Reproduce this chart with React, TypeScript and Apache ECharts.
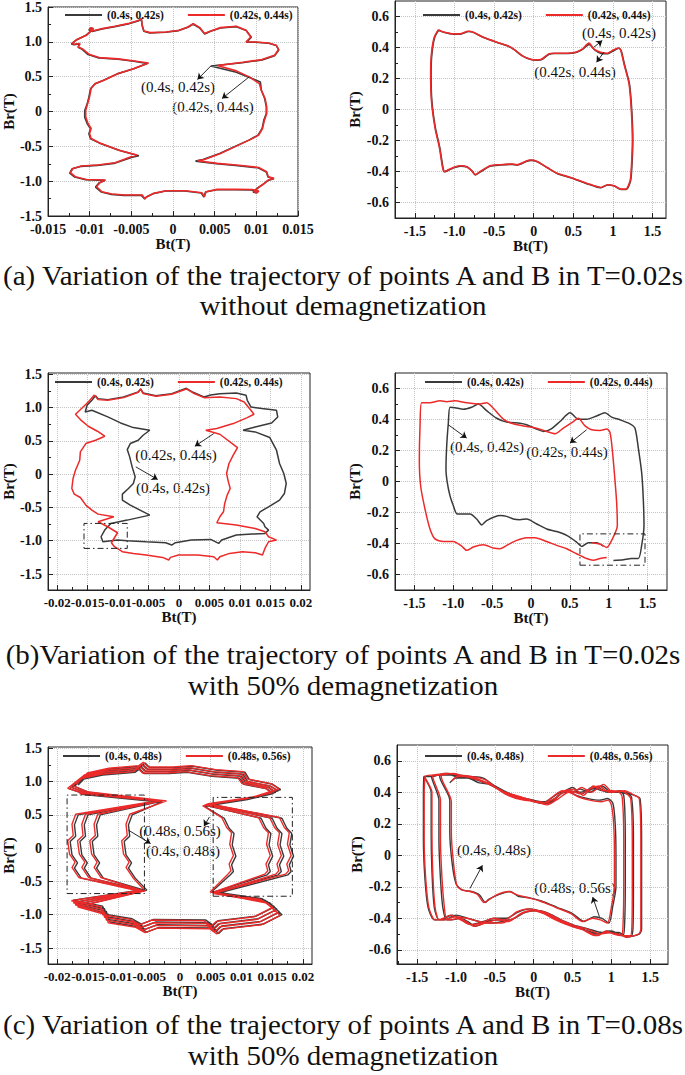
import React, { useEffect, useRef } from 'react';
import * as echarts from 'echarts';

const SERIF = 'Liberation Serif, Times New Roman, serif';
const BLACK = '#3a3a3a';
const RED = '#ec2a2a';

// ---------- tick labels ----------
const X_TICKS_A_LEFT = [-0.015, -0.01, -0.005, 0, 0.005, 0.01, 0.015];
const X_LABELS_A_LEFT = ['-0.015', '-0.01', '-0.005', '0', '0.005', '0.01', '0.015'];
const X_TICKS_BC_LEFT = [-0.02, -0.015, -0.01, -0.005, 0, 0.005, 0.01, 0.015, 0.02];
const X_LABELS_BC_LEFT = ['-0.02', '-0.015', '-0.01', '-0.005', '0', '0.005', '0.01', '0.015', '0.02'];
const X_TICKS_RIGHT = [-1.5, -1, -0.5, 0, 0.5, 1, 1.5];
const X_LABELS_RIGHT = ['-1.5', '-1.0', '-0.5', '0', '0.5', '1', '1.5'];
const Y_TICKS_LEFT = [-1.5, -1, -0.5, 0, 0.5, 1, 1.5];
const Y_LABELS_LEFT = ['-1.5', '-1.0', '-0.5', '0', '0.5', '1.0', '1.5'];
const Y_TICKS_RIGHT = [-0.6, -0.4, -0.2, 0, 0.2, 0.4, 0.6];
const Y_LABELS_RIGHT = ['-0.6', '-0.4', '-0.2', '0', '0.2', '0.4', '0.6'];

// ---------- legend names ----------
const NAMES_AB = ['(0.4s, 0.42s)', '(0.42s, 0.44s)'];
const NAMES_C = ['(0.4s, 0.48s)', '(0.48s, 0.56s)'];

// ---------- (a) left ----------
const A_LEFT_RED = [[-0.0104,1.094],[-0.00983,1.156],[-0.00956,1.19],[-0.00983,1.204],[-0.01002,1.175],[-0.00964,1.156],[-0.00849,1.19],[-0.00695,1.223],[-0.00542,1.261],[-0.00408,1.309],[-0.00381,1.333],[-0.0037,1.237],[-0.0035,1.156],[-0.00274,1.132],[-0.00083,1.142],[0.00071,1.166],[0.00178,1.213],[0.00243,1.261],[0.0032,1.204],[0.00377,1.118],[0.00454,1.156],[0.00569,1.204],[0.0076,1.223],[0.00875,1.166],[0.00933,1.07],[0.00875,0.998],[0.0099,0.998],[0.01143,0.984],[0.01239,0.951],[0.01266,0.889],[0.0122,0.807],[0.01067,0.745],[0.00837,0.707],[0.0053,0.659],[0.0076,0.583],[0.00914,0.497],[0.01036,0.401],[0.01059,0.306],[0.01105,0.186],[0.01124,0.067],[0.01124,-0.029],[0.01097,-0.124],[0.01074,-0.244],[0.01028,-0.339],[0.00914,-0.411],[0.0076,-0.497],[0.00569,-0.602],[0.00377,-0.688],[0.00293,-0.707],[0.0053,-0.745],[0.0076,-0.769],[0.01028,-0.803],[0.01124,-0.865],[0.01143,-0.936],[0.01212,-0.96],[0.01143,-0.984],[0.01086,-1.041],[0.01028,-1.089],[0.0097,-1.15],[0.0101,-1.165],[0.0103,-1.14],[0.0095,-1.12],[0.0076,-1.118],[0.0053,-1.118],[0.00396,-1.151],[0.00377,-1.223],[0.00346,-1.166],[0.00147,-1.137],[-0.00083,-1.137],[-0.00236,-1.175],[-0.00312,-1.223],[-0.00339,-1.252],[-0.0037,-1.199],[-0.0058,-1.199],[-0.00734,-1.185],[-0.00856,-1.151],[-0.00918,-1.08],[-0.00879,-1.022],[-0.0081,-0.984],[-0.0104,-0.975],[-0.01174,-0.936],[-0.01232,-0.879],[-0.01201,-0.817],[-0.01098,-0.783],[-0.00906,-0.769],[-0.00695,-0.736],[-0.00504,-0.65],[-0.00435,-0.626],[-0.00657,-0.554],[-0.00887,-0.449],[-0.00983,-0.387],[-0.01002,-0.315],[-0.00983,-0.244],[-0.01021,-0.172],[-0.01048,-0.076],[-0.01048,0.019],[-0.01025,0.115],[-0.01002,0.21],[-0.00983,0.33],[-0.00933,0.401],[-0.0083,0.449],[-0.00657,0.545],[-0.00466,0.616],[-0.00293,0.697],[-0.00466,0.726],[-0.00657,0.755],[-0.00887,0.774],[-0.0101,0.822],[-0.01086,0.898],[-0.01136,0.927],[-0.01117,0.975],[-0.01186,0.965],[-0.01213,0.975],[-0.01155,1.032],[-0.0104,1.094]];
const A_LEFT_BLACK = [[-0.0105,1.09],[-0.0099,1.15],[-0.0096,1.185],[-0.0099,1.2],[-0.0101,1.17],[-0.0097,1.15],[-0.0085,1.185],[-0.007,1.218],[-0.0054,1.256],[-0.0041,1.304],[-0.0038,1.328],[-0.0037,1.232],[-0.0035,1.151],[-0.0028,1.127],[-0.0009,1.137],[0.0007,1.161],[0.0018,1.208],[0.0024,1.256],[0.0032,1.199],[0.0038,1.113],[0.0045,1.151],[0.0057,1.199],[0.0076,1.218],[0.0088,1.161],[0.0094,1.065],[0.0088,0.993],[0.0099,0.993],[0.0115,0.979],[0.0124,0.946],[0.0127,0.884],[0.0122,0.802],[0.0107,0.74],[0.0083,0.7],[0.00454,0.654],[0.0076,0.564],[0.01048,0.425],[0.0106,0.306],[0.011,0.186],[0.0112,0.067],[0.0112,-0.029],[0.0109,-0.124],[0.0107,-0.244],[0.0102,-0.339],[0.0091,-0.411],[0.0075,-0.497],[0.0056,-0.602],[0.0036,-0.69],[0.0027,-0.712],[0.0052,-0.75],[0.0075,-0.774],[0.0102,-0.808],[0.0112,-0.87],[0.0114,-0.94],[0.0121,-0.965],[0.0114,-0.989],[0.0108,-1.046],[0.0102,-1.094],[0.0096,-1.155],[0.01,-1.17],[0.0102,-1.145],[0.0094,-1.125],[0.0075,-1.123],[0.0052,-1.123],[0.0039,-1.156],[0.0037,-1.228],[0.0034,-1.171],[0.0014,-1.142],[-0.0009,-1.142],[-0.0024,-1.18],[-0.0032,-1.228],[-0.0034,-1.257],[-0.0038,-1.204],[-0.0059,-1.204],[-0.0074,-1.19],[-0.0086,-1.156],[-0.0093,-1.085],[-0.0089,-1.027],[-0.0082,-0.989],[-0.0105,-0.98],[-0.0118,-0.941],[-0.0124,-0.884],[-0.0121,-0.822],[-0.0111,-0.788],[-0.0091,-0.774],[-0.0071,-0.745],[-0.005,-0.66],[-0.0041,-0.635],[-0.0064,-0.56],[-0.0088,-0.454],[-0.0099,-0.392],[-0.0101,-0.32],[-0.0099,-0.249],[-0.0103,-0.177],[-0.0106,-0.081],[-0.0106,0.014],[-0.0103,0.11],[-0.0101,0.205],[-0.0099,0.325],[-0.0094,0.396],[-0.0084,0.444],[-0.0067,0.54],[-0.0048,0.61],[-0.0031,0.69],[-0.0047,0.721],[-0.0066,0.75],[-0.0089,0.769],[-0.0102,0.817],[-0.0109,0.893],[-0.0114,0.922],[-0.0112,0.97],[-0.0119,0.96],[-0.0122,0.97],[-0.0116,1.027],[-0.0105,1.09]];

// ---------- (a) right ----------
const A_RIGHT_RED = [[-1.204,0.514],[-1.14,0.5],[-1.014,0.488],[-0.93,0.488],[-0.824,0.505],[-0.76,0.498],[-0.634,0.466],[-0.465,0.434],[-0.338,0.413],[-0.254,0.39],[-0.148,0.348],[-0.04,0.324],[0.042,0.32],[0.105,0.326],[0.19,0.359],[0.253,0.363],[0.422,0.363],[0.528,0.37],[0.612,0.39],[0.697,0.428],[0.76,0.39],[0.845,0.37],[0.93,0.363],[0.99,0.38],[1.07,0.397],[1.1,0.38],[1.14,0.294],[1.204,0.165],[1.233,-0.007],[1.246,-0.2],[1.233,-0.374],[1.217,-0.46],[1.162,-0.514],[1.1,-0.514],[1.014,-0.492],[0.93,-0.485],[0.845,-0.503],[0.76,-0.492],[0.634,-0.47],[0.465,-0.438],[0.296,-0.412],[0.169,-0.374],[0.042,-0.335],[-0.04,-0.326],[-0.106,-0.335],[-0.211,-0.356],[-0.275,-0.352],[-0.423,-0.356],[-0.55,-0.363],[-0.676,-0.4],[-0.74,-0.42],[-0.782,-0.395],[-0.845,-0.369],[-0.93,-0.363],[-1.014,-0.374],[-1.099,-0.395],[-1.132,-0.4],[-1.153,-0.364],[-1.19,-0.244],[-1.246,-0.115],[-1.29,0.057],[-1.3,0.23],[-1.29,0.359],[-1.255,0.466],[-1.204,0.514]];
const A_RIGHT_BLACK = [[-1.2,0.512],[-1.135,0.498],[-1.01,0.486],[-0.925,0.486],[-0.82,0.503],[-0.755,0.496],[-0.63,0.464],[-0.46,0.432],[-0.333,0.411],[-0.25,0.388],[-0.143,0.346],[-0.035,0.322],[0.047,0.318],[0.11,0.324],[0.195,0.357],[0.258,0.361],[0.427,0.361],[0.533,0.368],[0.617,0.388],[0.7,0.42],[0.77,0.385],[0.85,0.362],[0.935,0.36],[0.995,0.375],[1.075,0.395],[1.105,0.378],[1.145,0.292],[1.209,0.163],[1.238,-0.009],[1.251,-0.202],[1.238,-0.376],[1.222,-0.462],[1.167,-0.516],[1.105,-0.516],[1.019,-0.494],[0.935,-0.487],[0.85,-0.505],[0.765,-0.494],[0.639,-0.472],[0.47,-0.44],[0.301,-0.414],[0.174,-0.376],[0.047,-0.337],[-0.035,-0.328],[-0.101,-0.337],[-0.206,-0.358],[-0.27,-0.354],[-0.418,-0.358],[-0.545,-0.365],[-0.671,-0.402],[-0.735,-0.422],[-0.777,-0.397],[-0.84,-0.371],[-0.925,-0.365],[-1.009,-0.376],[-1.094,-0.397],[-1.127,-0.402],[-1.148,-0.366],[-1.185,-0.246],[-1.241,-0.117],[-1.285,0.055],[-1.295,0.228],[-1.285,0.357],[-1.25,0.464],[-1.2,0.512]];

// ---------- (b) left ----------
const B_LEFT_RED = [[-0.0139,1.19],[-0.0133,1.12],[-0.0117,1.11],[-0.0091,1.15],[-0.0067,1.23],[-0.0063,1.28],[-0.0059,1.21],[-0.0038,1.17],[-0.0012,1.2],[0.0012,1.28],[0.0023,1.22],[0.0041,1.15],[0.0067,1.16],[0.0094,1.135],[0.0107,1.085],[0.0118,0.96],[0.0123,0.9],[0.0112,0.85],[0.0089,0.76],[0.0062,0.685],[0.0044,0.66],[0.0067,0.6],[0.0096,0.4],[0.0089,0.285],[0.0082,0.16],[0.0078,0.01],[0.0081,-0.115],[0.0084,-0.215],[0.0079,-0.315],[0.0075,-0.44],[0.0073,-0.565],[0.0067,-0.64],[0.0062,-0.73],[0.0094,-0.765],[0.0125,-0.815],[0.0141,-0.865],[0.0147,-0.94],[0.016,-0.99],[0.0147,-1.015],[0.0141,-1.115],[0.0137,-1.215],[0.0125,-1.18],[0.0104,-1.165],[0.0083,-1.19],[0.0067,-1.24],[0.0063,-1.29],[0.0057,-1.24],[0.0031,-1.215],[-0.0001,-1.215],[-0.0014,-1.25],[-0.0017,-1.29],[-0.0027,-1.25],[-0.0054,-1.215],[-0.0075,-1.19],[-0.0093,-1.165],[-0.0106,-1.09],[-0.0111,-1.03],[-0.0101,-0.88],[-0.0117,-0.79],[-0.0133,-0.715],[-0.0107,-0.64],[-0.0133,-0.6],[-0.0143,-0.54],[-0.0153,-0.465],[-0.0162,-0.35],[-0.0172,-0.3],[-0.0176,-0.215],[-0.0174,-0.065],[-0.017,0.06],[-0.0163,0.21],[-0.0162,0.335],[-0.0153,0.46],[-0.0137,0.51],[-0.0122,0.57],[-0.0134,0.645],[-0.0149,0.72],[-0.0162,0.82],[-0.017,0.9],[-0.0163,0.96],[-0.0149,1.085],[-0.0139,1.19]];
const B_LEFT_BLACK = [[-0.0137,1.18],[-0.0143,1.11],[-0.0151,1.035],[-0.0154,0.935],[-0.0143,0.96],[-0.0117,0.86],[-0.0096,0.77],[-0.0075,0.7],[-0.0048,0.66],[-0.0059,0.585],[-0.0067,0.51],[-0.008,0.46],[-0.0085,0.37],[-0.0081,0.26],[-0.0077,0.11],[-0.0072,-0.04],[-0.0075,-0.14],[-0.0083,-0.215],[-0.0093,-0.3],[-0.0093,-0.39],[-0.008,-0.465],[-0.0064,-0.54],[-0.0048,-0.615],[-0.0085,-0.69],[-0.0112,-0.74],[-0.0122,-0.84],[-0.0128,-0.94],[-0.0125,-1.015],[-0.0101,-0.99],[-0.0085,-1.0],[-0.0054,-1.015],[-0.0022,-1.03],[-0.0012,-1.065],[-0.0006,-1.03],[0.002,-0.99],[0.0052,-0.98],[0.0065,-1.04],[0.007,-0.99],[0.0094,-0.915],[0.012,-0.9],[0.0141,-0.89],[0.0147,-0.84],[0.0141,-0.79],[0.0139,-0.74],[0.0128,-0.64],[0.0133,-0.565],[0.0147,-0.49],[0.0165,-0.39],[0.0173,-0.29],[0.0176,-0.14],[0.0172,0.01],[0.0165,0.16],[0.016,0.36],[0.0149,0.55],[0.0125,0.635],[0.0105,0.66],[0.0125,0.71],[0.0152,0.77],[0.0162,0.86],[0.016,0.96],[0.0136,0.985],[0.0118,1.01],[0.0112,1.11],[0.011,1.185],[0.0094,1.22],[0.0067,1.21],[0.0052,1.19],[0.0041,1.16],[0.0023,1.23],[0.0012,1.29],[-0.0012,1.21],[-0.0038,1.18],[-0.0059,1.22],[-0.0063,1.28],[-0.0067,1.235],[-0.0091,1.16],[-0.0117,1.12],[-0.0133,1.135],[-0.0137,1.18]];

// ---------- (b) right ----------
const B_RIGHT_BLACK = [[1.06,-0.51],[1.19,-0.505],[1.29,-0.497],[1.381,-0.497],[1.424,-0.412],[1.454,-0.284],[1.445,-0.114],[1.424,0.057],[1.381,0.216],[1.338,0.344],[1.274,0.372],[1.145,0.398],[1.038,0.415],[0.952,0.444],[0.845,0.423],[0.716,0.402],[0.609,0.402],[0.502,0.444],[0.373,0.387],[0.244,0.334],[0.159,0.323],[0.073,0.338],[-0.056,0.366],[-0.142,0.376],[-0.313,0.383],[-0.442,0.408],[-0.571,0.457],[-0.678,0.5],[-0.764,0.479],[-0.871,0.466],[-0.978,0.476],[-1.042,0.479],[-1.064,0.376],[-1.085,0.227],[-1.094,0.078],[-1.077,-0.007],[-1.042,-0.093],[-0.999,-0.157],[-0.948,-0.21],[-0.785,-0.21],[-0.699,-0.242],[-0.635,-0.28],[-0.571,-0.252],[-0.399,-0.22],[-0.313,-0.225],[-0.227,-0.242],[-0.142,-0.246],[-0.056,-0.242],[0.073,-0.274],[0.201,-0.306],[0.33,-0.323],[0.459,-0.348],[0.587,-0.391],[0.652,-0.419],[0.738,-0.395],[0.845,-0.395],[0.931,-0.417]];
const B_RIGHT_RED = [[0.781,-0.395],[0.888,-0.404],[0.974,-0.425],[1.038,-0.38],[1.111,-0.284],[1.102,-0.135],[1.076,0.035],[1.046,0.206],[1.016,0.317],[0.974,0.338],[0.888,0.329],[0.781,0.334],[0.695,0.359],[0.609,0.408],[0.545,0.387],[0.416,0.344],[0.309,0.308],[0.201,0.323],[0.073,0.344],[-0.056,0.355],[-0.227,0.372],[-0.356,0.402],[-0.485,0.472],[-0.571,0.508],[-0.656,0.5],[-0.828,0.508],[-0.978,0.521],[-1.085,0.515],[-1.171,0.521],[-1.3,0.508],[-1.407,0.508],[-1.428,0.355],[-1.437,0.142],[-1.42,-0.029],[-1.364,-0.178],[-1.3,-0.306],[-1.236,-0.37],[-1.128,-0.387],[-0.999,-0.387],[-0.892,-0.417],[-0.828,-0.444],[-0.742,-0.423],[-0.613,-0.408],[-0.485,-0.429],[-0.399,-0.434],[-0.313,-0.412],[-0.184,-0.38],[-0.056,-0.363],[0.051,-0.363],[0.201,-0.387],[0.33,-0.412],[0.459,-0.434],[0.587,-0.466],[0.716,-0.497],[0.802,-0.508],[0.888,-0.497],[0.974,-0.491]];

// ---------- (c) left : four sub-loops per window ----------
const C_LEFT_BLACK_1 = [[-0.0166,0.95],[-0.0148,1.12],[-0.0113,1.19],[-0.0064,1.23],[-0.0057,1.28],[-0.0049,1.21],[-0.0009,1.21],[0.0021,1.23],[0.0061,1.17],[0.0106,1.14],[0.0113,1.03],[0.0151,0.96],[0.0164,0.88],[0.0122,0.76],[0.0049,0.66],[0.0166,0.45],[0.0174,0.3],[0.0182,0.22],[0.0179,0.05],[0.0185,-0.12],[0.0178,-0.25],[0.0181,-0.35],[0.0176,-0.4],[0.0061,-0.68],[0.0146,-0.82],[0.0166,-1.0],[0.0136,-1.14],[0.0071,-1.21],[0.0063,-1.28],[0.0051,-1.2],[-0.0034,-1.19],[-0.0054,-1.26],[-0.0069,-1.18],[-0.0114,-1.11],[-0.0117,-0.99],[-0.0164,-0.87],[-0.0054,-0.63],[-0.0073,-0.45],[-0.0084,-0.3],[-0.0079,-0.22],[-0.0088,-0.1],[-0.0091,0.1],[-0.0082,0.18],[-0.0084,0.35],[-0.0078,0.5],[-0.0029,0.7],[-0.0149,0.84]];
const C_LEFT_BLACK_2 = [[-0.0172,0.93],[-0.0153,1.09],[-0.0118,1.16],[-0.0067,1.2],[-0.006,1.25],[-0.0052,1.18],[-0.0012,1.18],[0.0018,1.2],[0.0058,1.14],[0.0103,1.11],[0.011,1.0],[0.0148,0.93],[0.016,0.86],[0.0118,0.75],[0.0046,0.65],[0.015,0.45],[0.0158,0.3],[0.0166,0.22],[0.0163,0.05],[0.0169,-0.12],[0.0162,-0.25],[0.0165,-0.35],[0.016,-0.4],[0.0058,-0.67],[0.0142,-0.8],[0.0162,-0.96],[0.0132,-1.1],[0.0068,-1.17],[0.006,-1.24],[0.0048,-1.16],[-0.0037,-1.15],[-0.0057,-1.22],[-0.0072,-1.14],[-0.0117,-1.07],[-0.012,-0.95],[-0.0168,-0.84],[-0.0058,-0.63],[-0.0125,-0.45],[-0.0136,-0.3],[-0.0131,-0.22],[-0.014,-0.1],[-0.0143,0.1],[-0.0134,0.18],[-0.0136,0.35],[-0.013,0.5],[-0.0033,0.7],[-0.0153,0.83]];
const C_LEFT_BLACK_3 = [[-0.0176,0.91],[-0.0157,1.06],[-0.0122,1.13],[-0.007,1.17],[-0.0063,1.22],[-0.0055,1.15],[-0.0015,1.15],[0.0015,1.17],[0.0055,1.11],[0.01,1.08],[0.0107,0.98],[0.0145,0.91],[0.0156,0.84],[0.0114,0.74],[0.0043,0.64],[0.0132,0.45],[0.014,0.3],[0.0148,0.22],[0.0145,0.05],[0.0151,-0.12],[0.0144,-0.25],[0.0147,-0.35],[0.0142,-0.4],[0.0055,-0.66],[0.0138,-0.78],[0.0158,-0.92],[0.0128,-1.06],[0.0065,-1.13],[0.0057,-1.2],[0.0045,-1.12],[-0.004,-1.11],[-0.006,-1.18],[-0.0075,-1.1],[-0.012,-1.03],[-0.0123,-0.91],[-0.0171,-0.81],[-0.0062,-0.63],[-0.0145,-0.45],[-0.0156,-0.3],[-0.0151,-0.22],[-0.016,-0.1],[-0.0163,0.1],[-0.0154,0.18],[-0.0156,0.35],[-0.015,0.5],[-0.0037,0.7],[-0.0157,0.82]];
const C_LEFT_BLACK_4 = [[-0.018,0.89],[-0.0161,1.03],[-0.0126,1.1],[-0.0073,1.14],[-0.0066,1.19],[-0.0058,1.12],[-0.0018,1.12],[0.0012,1.14],[0.0052,1.08],[0.0097,1.05],[0.0104,0.96],[0.0142,0.89],[0.0152,0.82],[0.011,0.73],[0.004,0.63],[0.0072,0.45],[0.008,0.3],[0.0088,0.22],[0.0085,0.05],[0.0091,-0.12],[0.0084,-0.25],[0.0087,-0.35],[0.0082,-0.4],[0.0052,-0.65],[0.0134,-0.76],[0.0154,-0.88],[0.0124,-1.02],[0.0062,-1.09],[0.0054,-1.16],[0.0042,-1.08],[-0.0043,-1.07],[-0.0063,-1.14],[-0.0078,-1.06],[-0.0123,-0.99],[-0.0126,-0.87],[-0.0174,-0.78],[-0.0066,-0.63],[-0.0161,-0.45],[-0.0172,-0.3],[-0.0167,-0.22],[-0.0176,-0.1],[-0.0179,0.1],[-0.017,0.18],[-0.0172,0.35],[-0.0166,0.5],[-0.0041,0.7],[-0.0161,0.81]];
const C_LEFT_RED_1 = [[-0.0169,0.96],[-0.0151,1.13],[-0.0116,1.2],[-0.0067,1.24],[-0.006,1.29],[-0.0052,1.22],[-0.0012,1.22],[0.0018,1.24],[0.0058,1.18],[0.0103,1.15],[0.011,1.04],[0.0148,0.97],[0.0161,0.89],[0.0119,0.77],[0.0046,0.67],[0.0162,0.46],[0.017,0.31],[0.0178,0.23],[0.0175,0.06],[0.0181,-0.11],[0.0174,-0.24],[0.0177,-0.34],[0.0172,-0.39],[0.0058,-0.67],[0.0143,-0.83],[0.0163,-1.01],[0.0133,-1.15],[0.0068,-1.22],[0.006,-1.29],[0.0048,-1.21],[-0.0037,-1.2],[-0.0057,-1.27],[-0.0072,-1.19],[-0.0117,-1.12],[-0.012,-1.0],[-0.0167,-0.88],[-0.0057,-0.64],[-0.0077,-0.44],[-0.0088,-0.29],[-0.0083,-0.21],[-0.0092,-0.09],[-0.0095,0.11],[-0.0086,0.19],[-0.0088,0.36],[-0.0082,0.51],[-0.0022,0.71],[-0.0152,0.85]];
const C_LEFT_RED_2 = [[-0.0175,0.94],[-0.0156,1.1],[-0.0121,1.17],[-0.007,1.21],[-0.0063,1.26],[-0.0055,1.19],[-0.0015,1.19],[0.0015,1.21],[0.0055,1.15],[0.01,1.12],[0.0107,1.01],[0.0145,0.94],[0.0157,0.87],[0.0115,0.76],[0.0043,0.66],[0.0146,0.46],[0.0154,0.31],[0.0162,0.23],[0.0159,0.06],[0.0165,-0.11],[0.0158,-0.24],[0.0161,-0.34],[0.0156,-0.39],[0.0055,-0.68],[0.0139,-0.81],[0.0159,-0.97],[0.0129,-1.11],[0.0065,-1.18],[0.0057,-1.25],[0.0045,-1.17],[-0.004,-1.16],[-0.006,-1.23],[-0.0075,-1.15],[-0.012,-1.08],[-0.0123,-0.96],[-0.0171,-0.85],[-0.0061,-0.64],[-0.0129,-0.44],[-0.014,-0.29],[-0.0135,-0.21],[-0.0144,-0.09],[-0.0147,0.11],[-0.0138,0.19],[-0.014,0.36],[-0.0134,0.51],[-0.003,0.71],[-0.0156,0.84]];
const C_LEFT_RED_3 = [[-0.0179,0.92],[-0.016,1.07],[-0.0125,1.14],[-0.0073,1.18],[-0.0066,1.23],[-0.0058,1.16],[-0.0018,1.16],[0.0012,1.18],[0.0052,1.12],[0.0097,1.09],[0.0104,0.99],[0.0142,0.92],[0.0153,0.85],[0.0111,0.75],[0.004,0.65],[0.0128,0.46],[0.0136,0.31],[0.0144,0.23],[0.0141,0.06],[0.0147,-0.11],[0.014,-0.24],[0.0143,-0.34],[0.0138,-0.39],[0.0052,-0.67],[0.0135,-0.79],[0.0155,-0.93],[0.0125,-1.07],[0.0062,-1.14],[0.0054,-1.21],[0.0042,-1.13],[-0.0043,-1.12],[-0.0063,-1.19],[-0.0078,-1.11],[-0.0123,-1.04],[-0.0126,-0.92],[-0.0174,-0.82],[-0.0065,-0.64],[-0.0149,-0.44],[-0.016,-0.29],[-0.0155,-0.21],[-0.0164,-0.09],[-0.0167,0.11],[-0.0158,0.19],[-0.016,0.36],[-0.0154,0.51],[-0.0034,0.71],[-0.016,0.83]];
const C_LEFT_RED_4 = [[-0.0183,0.9],[-0.0164,1.04],[-0.0129,1.11],[-0.0076,1.15],[-0.0069,1.2],[-0.0061,1.13],[-0.0021,1.13],[0.0009,1.15],[0.0049,1.09],[0.0094,1.06],[0.0101,0.97],[0.0139,0.9],[0.0149,0.83],[0.0107,0.74],[0.0037,0.64],[0.0068,0.46],[0.0076,0.31],[0.0084,0.23],[0.0081,0.06],[0.0087,-0.11],[0.008,-0.24],[0.0083,-0.34],[0.0078,-0.39],[0.0049,-0.66],[0.0131,-0.77],[0.0151,-0.89],[0.0121,-1.03],[0.0059,-1.1],[0.0051,-1.17],[0.0039,-1.09],[-0.0046,-1.08],[-0.0066,-1.15],[-0.0081,-1.07],[-0.0126,-1.0],[-0.0129,-0.88],[-0.0177,-0.79],[-0.0069,-0.64],[-0.0165,-0.44],[-0.0176,-0.29],[-0.0171,-0.21],[-0.018,-0.09],[-0.0183,0.11],[-0.0174,0.19],[-0.0176,0.36],[-0.017,0.51],[-0.0038,0.71],[-0.0164,0.82]];

// ---------- (c) right : four sub-loops per window ----------
const C_RIGHT_BLACK_1 = [[-1.08,0.46],[-1.0,0.49],[-0.85,0.49],[-0.7,0.46],[-0.55,0.45],[-0.4,0.41],[-0.2,0.37],[0.0,0.35],[0.15,0.33],[0.3,0.37],[0.42,0.41],[0.55,0.38],[0.7,0.36],[0.85,0.35],[0.95,0.36],[1.02,0.33],[1.05,0.2],[1.06,0.0],[1.06,-0.2],[1.02,-0.32],[0.97,-0.43],[0.88,-0.4],[0.78,-0.39],[0.65,-0.42],[0.5,-0.37],[0.3,-0.33],[0.1,-0.29],[-0.05,-0.27],[-0.2,-0.26],[-0.3,-0.23],[-0.45,-0.25],[-0.58,-0.28],[-0.62,-0.3],[-0.7,-0.25],[-0.8,-0.23],[-0.92,-0.22],[-1.0,-0.18],[-1.05,-0.05],[-1.08,0.15],[-1.08,0.35]];
const C_RIGHT_BLACK_2 = [[-1.21,0.5],[-1.12,0.52],[-0.98,0.51],[-0.82,0.5],[-0.65,0.49],[-0.5,0.44],[-0.3,0.39],[-0.1,0.36],[0.1,0.34],[0.25,0.35],[0.38,0.4],[0.5,0.43],[0.62,0.39],[0.75,0.43],[0.88,0.41],[1.0,0.4],[1.1,0.41],[1.16,0.38],[1.18,0.1],[1.18,-0.2],[1.17,-0.45],[1.15,-0.51],[1.05,-0.49],[0.95,-0.48],[0.85,-0.5],[0.7,-0.48],[0.5,-0.45],[0.3,-0.41],[0.15,-0.37],[0.0,-0.35],[-0.15,-0.37],[-0.3,-0.41],[-0.45,-0.41],[-0.6,-0.42],[-0.75,-0.45],[-0.85,-0.42],[-0.95,-0.4],[-1.05,-0.41],[-1.12,-0.41],[-1.17,-0.33],[-1.2,-0.15],[-1.22,0.1],[-1.22,0.35]];
const C_RIGHT_BLACK_3 = [[-1.315,0.5],[-1.2,0.51],[-1.05,0.51],[-0.9,0.5],[-0.72,0.48],[-0.55,0.45],[-0.35,0.39],[-0.15,0.36],[0.05,0.34],[0.2,0.33],[0.32,0.38],[0.45,0.41],[0.58,0.4],[0.7,0.41],[0.82,0.43],[0.95,0.4],[1.1,0.4],[1.2,0.39],[1.26,0.37],[1.285,0.1],[1.285,-0.2],[1.28,-0.45],[1.26,-0.51],[1.15,-0.51],[1.0,-0.48],[0.88,-0.49],[0.72,-0.47],[0.5,-0.44],[0.3,-0.4],[0.12,-0.36],[-0.05,-0.34],[-0.2,-0.36],[-0.35,-0.4],[-0.5,-0.4],[-0.65,-0.42],[-0.8,-0.44],[-0.92,-0.41],[-1.05,-0.38],[-1.15,-0.4],[-1.22,-0.41],[-1.28,-0.33],[-1.31,-0.1],[-1.32,0.15],[-1.32,0.4]];
const C_RIGHT_BLACK_4 = [[-1.415,0.5],[-1.3,0.5],[-1.15,0.52],[-1.0,0.5],[-0.82,0.49],[-0.62,0.46],[-0.45,0.42],[-0.25,0.38],[-0.05,0.35],[0.1,0.33],[0.22,0.36],[0.35,0.4],[0.48,0.4],[0.6,0.42],[0.72,0.4],[0.88,0.44],[1.0,0.4],[1.15,0.4],[1.3,0.38],[1.37,0.36],[1.39,0.1],[1.39,-0.2],[1.39,-0.47],[1.36,-0.5],[1.2,-0.52],[1.1,-0.49],[0.95,-0.49],[0.8,-0.5],[0.6,-0.46],[0.4,-0.42],[0.2,-0.37],[0.05,-0.35],[-0.1,-0.36],[-0.25,-0.4],[-0.4,-0.42],[-0.55,-0.43],[-0.7,-0.42],[-0.85,-0.4],[-1.0,-0.38],[-1.15,-0.41],[-1.28,-0.41],[-1.36,-0.33],[-1.4,-0.15],[-1.42,0.1],[-1.42,0.4],[-1.415,0.5]];
const C_RIGHT_RED_1 = [[-1.06,0.47],[-0.98,0.5],[-0.83,0.5],[-0.68,0.47],[-0.52,0.44],[-0.38,0.4],[-0.18,0.36],[0.02,0.34],[0.17,0.32],[0.32,0.36],[0.45,0.4],[0.58,0.37],[0.72,0.35],[0.87,0.34],[0.96,0.35],[1.0,0.32],[1.03,0.2],[1.04,0.0],[1.04,-0.2],[1.0,-0.33],[0.95,-0.43],[0.86,-0.41],[0.76,-0.4],[0.63,-0.42],[0.48,-0.37],[0.28,-0.33],[0.08,-0.29],[-0.07,-0.27],[-0.22,-0.25],[-0.32,-0.23],[-0.47,-0.25],[-0.6,-0.29],[-0.64,-0.3],[-0.72,-0.25],[-0.82,-0.23],[-0.93,-0.22],[-0.99,-0.19],[-1.03,-0.06],[-1.06,0.14],[-1.06,0.34]];
const C_RIGHT_RED_2 = [[-1.19,0.5],[-1.1,0.52],[-0.96,0.51],[-0.8,0.5],[-0.63,0.48],[-0.48,0.43],[-0.28,0.38],[-0.08,0.35],[0.12,0.33],[0.27,0.36],[0.4,0.41],[0.52,0.42],[0.64,0.38],[0.77,0.44],[0.9,0.41],[1.02,0.41],[1.1,0.4],[1.14,0.37],[1.16,0.1],[1.16,-0.2],[1.15,-0.45],[1.13,-0.51],[1.03,-0.5],[0.93,-0.48],[0.83,-0.51],[0.68,-0.48],[0.48,-0.45],[0.28,-0.41],[0.13,-0.37],[-0.02,-0.35],[-0.17,-0.37],[-0.32,-0.42],[-0.47,-0.41],[-0.62,-0.43],[-0.77,-0.45],[-0.87,-0.42],[-0.97,-0.4],[-1.07,-0.41],[-1.12,-0.41],[-1.15,-0.33],[-1.18,-0.15],[-1.2,0.1],[-1.2,0.35]];
const C_RIGHT_RED_3 = [[-1.3,0.5],[-1.18,0.51],[-1.03,0.52],[-0.88,0.5],[-0.7,0.48],[-0.53,0.44],[-0.33,0.38],[-0.13,0.35],[0.07,0.34],[0.22,0.33],[0.34,0.39],[0.47,0.41],[0.6,0.39],[0.72,0.42],[0.84,0.44],[0.97,0.4],[1.12,0.41],[1.2,0.39],[1.25,0.36],[1.27,0.1],[1.27,-0.2],[1.265,-0.45],[1.245,-0.51],[1.13,-0.51],[0.98,-0.49],[0.86,-0.5],[0.7,-0.47],[0.48,-0.44],[0.28,-0.4],[0.1,-0.36],[-0.07,-0.34],[-0.22,-0.36],[-0.37,-0.41],[-0.52,-0.4],[-0.67,-0.43],[-0.82,-0.44],[-0.94,-0.41],[-1.07,-0.38],[-1.17,-0.4],[-1.22,-0.41],[-1.27,-0.33],[-1.3,-0.1],[-1.31,0.15],[-1.31,0.4]];
const C_RIGHT_RED_4 = [[-1.4,0.5],[-1.28,0.51],[-1.13,0.52],[-0.98,0.51],[-0.8,0.49],[-0.6,0.46],[-0.43,0.41],[-0.23,0.38],[-0.03,0.35],[0.12,0.33],[0.24,0.37],[0.37,0.41],[0.5,0.4],[0.62,0.43],[0.74,0.4],[0.9,0.45],[1.02,0.4],[1.17,0.41],[1.3,0.38],[1.36,0.36],[1.38,0.1],[1.38,-0.2],[1.38,-0.47],[1.35,-0.5],[1.19,-0.52],[1.09,-0.5],[0.94,-0.49],[0.79,-0.51],[0.59,-0.46],[0.39,-0.42],[0.19,-0.37],[0.04,-0.35],[-0.11,-0.36],[-0.26,-0.4],[-0.41,-0.43],[-0.56,-0.43],[-0.71,-0.42],[-0.86,-0.4],[-1.01,-0.39],[-1.16,-0.41],[-1.27,-0.41],[-1.35,-0.33],[-1.39,-0.15],[-1.41,0.1],[-1.41,0.4],[-1.4,0.5]];

// ---------- annotation arrows (from curve to label) : [x1, y1, x2, y2] ----------
const A_LEFT_ARROWS = [[0.00454, 0.654, 0.00293, 0.459], [0.00914, 0.497, 0.00588, 0.186]];
const A_RIGHT_ARROWS = [[0.76, 0.402, 0.866, 0.445], [0.887, 0.37, 0.794, 0.305]];
const B_LEFT_ARROWS = [[0.0057, 0.61, 0.0026, 0.42], [-0.0071, 0.11, -0.0035, -0.08]];
const B_RIGHT_ARROWS = [[-1.064, 0.366, -0.828, 0.28], [0.716, 0.334, 0.502, 0.248]];
const C_LEFT_ARROWS = [[0.0048, 0.47, 0.0039, 0.33], [-0.0084, 0.27, -0.0048, 0.07]];
const C_RIGHT_ARROWS = [[-0.82, -0.21, -0.66, -0.064], [0.847, -0.39, 0.76, -0.265]];

// ---------- dash-dot boxes : [xMin, xMax, yMin, yMax] ----------
const B_LEFT_BOX = [-0.0156, -0.0085, -1.115, -0.74];
const B_RIGHT_BOX = [0.63, 1.467, -0.54, -0.338];
const C_LEFT_BOX_1 = [-0.0184, -0.0058, -0.682, 0.798];
const C_LEFT_BOX_2 = [0.0054, 0.0183, -0.722, 0.763];

// ---------- texts ----------
const ANNOTATIONS: [string, number, number][] = [
  ['(0.4s, 0.42s)', 178, 87], ['(0.42s, 0.44s)', 213, 107],
  ['(0.4s, 0.42s)', 619, 33], ['(0.42s, 0.44s)', 575, 72],
  ['(0.42s, 0.44s)', 176, 455], ['(0.4s, 0.42s)', 173, 488],
  ['(0.4s, 0.42s)', 487, 447], ['(0.42s, 0.44s)', 567, 452],
  ['(0.48s, 0.56s)', 180, 831], ['(0.4s, 0.48s)', 183, 851],
  ['(0.4s, 0.48s)', 494, 850], ['(0.48s, 0.56s)', 575, 888],
];
const CAPTIONS: [string, number][] = [
  ['(a) Variation of the trajectory of points A and B in T=0.02s', 276],
  ['without demagnetization', 306],
  ['(b)Variation of the trajectory of points A and B in T=0.02s', 655],
  ['with 50% demagnetization', 686],
  ['(c) Variation of the trajectory of points A and B in T=0.08s', 1025],
  ['with 50% demagnetization', 1056],
];

type Panel = {
  grid: { left: number; top: number; width: number; height: number };
  x: [number, number]; y: [number, number];
  xt: number[]; xl: string[]; yt: number[]; yl: string[];
  xs: number; ys: number; yGap: number; xFont: number;
  names: string[]; black: number[][]; red: number[][];
  arrows: number[][]; boxes: number[][]; legendLeft: number; legendY: number;
  smooth: number | boolean; width: number;
};

const PANELS: Panel[] = [
  { grid: { left: 37, top: 7, width: 261, height: 209 }, x: [-0.015, 0.015], y: [-1.5, 1.5],
    xt: X_TICKS_A_LEFT, xl: X_LABELS_A_LEFT, yt: Y_TICKS_LEFT, yl: Y_LABELS_LEFT, xs: 6, ys: 6, yGap: 19, xFont: 14,
    names: NAMES_AB, black: A_LEFT_BLACK, red: A_LEFT_RED, arrows: A_LEFT_ARROWS, boxes: [],
    legendLeft: 65, legendY: 16, smooth: false, width: 1.6 },
  { grid: { left: 395, top: 1, width: 271, height: 217 }, x: [-1.75, 1.67], y: [-0.7, 0.7],
    xt: X_TICKS_RIGHT, xl: X_LABELS_RIGHT, yt: Y_TICKS_RIGHT, yl: Y_LABELS_RIGHT, xs: 7, ys: 7, yGap: 31, xFont: 14,
    names: NAMES_AB, black: A_RIGHT_BLACK, red: A_RIGHT_RED, arrows: A_RIGHT_ARROWS, boxes: [],
    legendLeft: 423, legendY: 16, smooth: 0.25, width: 1.6 },
  { grid: { left: 38, top: 373, width: 272, height: 217 }, x: [-0.0215, 0.0215], y: [-1.74, 1.52],
    xt: X_TICKS_BC_LEFT, xl: X_LABELS_BC_LEFT, yt: Y_TICKS_LEFT, yl: Y_LABELS_LEFT, xs: 8, ys: 6, yGap: 19, xFont: 13,
    names: NAMES_AB, black: B_LEFT_BLACK, red: B_LEFT_RED, arrows: B_LEFT_ARROWS, boxes: [B_LEFT_BOX],
    legendLeft: 55, legendY: 383, smooth: false, width: 1.5 },
  { grid: { left: 395, top: 373, width: 272, height: 217 }, x: [-1.75, 1.75], y: [-0.7, 0.7],
    xt: X_TICKS_RIGHT, xl: X_LABELS_RIGHT, yt: Y_TICKS_RIGHT, yl: Y_LABELS_RIGHT, xs: 7, ys: 7, yGap: 31, xFont: 14,
    names: NAMES_AB, black: B_RIGHT_BLACK, red: B_RIGHT_RED, arrows: B_RIGHT_ARROWS, boxes: [B_RIGHT_BOX],
    legendLeft: 425, legendY: 383, smooth: 0.25, width: 1.5 },
  { grid: { left: 42, top: 747, width: 270, height: 217 }, x: [-0.0215, 0.0215], y: [-1.74, 1.52],
    xt: X_TICKS_BC_LEFT, xl: X_LABELS_BC_LEFT, yt: Y_TICKS_LEFT, yl: Y_LABELS_LEFT, xs: 8, ys: 6, yGap: 21, xFont: 13,
    names: NAMES_C,
    black: [...C_LEFT_BLACK_1, ...C_LEFT_BLACK_2, ...C_LEFT_BLACK_3, ...C_LEFT_BLACK_4],
    red: [...C_LEFT_RED_1, ...C_LEFT_RED_2, ...C_LEFT_RED_3, ...C_LEFT_RED_4],
    arrows: C_LEFT_ARROWS, boxes: [C_LEFT_BOX_1, C_LEFT_BOX_2],
    legendLeft: 63, legendY: 757, smooth: false, width: 1.4 },
  { grid: { left: 397, top: 745, width: 271, height: 219 }, x: [-1.76, 1.73], y: [-0.69, 0.7],
    xt: X_TICKS_RIGHT, xl: X_LABELS_RIGHT, yt: Y_TICKS_RIGHT, yl: Y_LABELS_RIGHT, xs: 7, ys: 7, yGap: 31, xFont: 14,
    names: NAMES_C,
    black: [...C_RIGHT_BLACK_1, ...C_RIGHT_BLACK_2, ...C_RIGHT_BLACK_3, ...C_RIGHT_BLACK_4],
    red: [...C_RIGHT_RED_1, ...C_RIGHT_RED_2, ...C_RIGHT_RED_3, ...C_RIGHT_RED_4],
    arrows: C_RIGHT_ARROWS, boxes: [],
    legendLeft: 425, legendY: 757, smooth: 0.25, width: 1.4 },
];

function fmt(ticks: number[], labels: string[]) {
  return (v: number) => {
    for (let i = 0; i < ticks.length; i++) {
      if (Math.abs(ticks[i] - v) < 1e-7) return labels[i];
    }
    return '';
  };
}

function axis(gridIndex: number, range: [number, number], ticks: number[], labels: string[], split: number, name: string, nameGap: number, fontSize: number) {
  return {
    type: 'value', gridIndex, min: range[0], max: range[1], splitNumber: split,
    name, nameLocation: 'middle', nameGap,
    nameTextStyle: { fontFamily: SERIF, fontWeight: 'bold', fontSize: 15, color: '#111' },
    axisLine: { show: true, onZero: false, lineStyle: { color: '#222', width: 1 } },
    axisTick: { show: true, inside: true, length: 5, customValues: ticks, lineStyle: { color: '#222', width: 1 } },
    minorTick: { show: true, splitNumber: 2, length: 3, lineStyle: { color: '#222', width: 1 } },
    axisLabel: { customValues: ticks, formatter: fmt(ticks, labels), fontFamily: SERIF, fontWeight: 'bold', fontSize, color: '#111', margin: 6 },
    splitLine: { show: true, lineStyle: { color: '#c4c4c4', type: 'dotted', width: 1 } },
    minorSplitLine: { show: false },
  };
}

function boxData(b: number[]) {
  return [[b[0], b[2]], [b[1], b[2]], [b[1], b[3]], [b[0], b[3]], [b[0], b[2]]];
}

function buildOption() {
  const grid: any[] = [];
  const xAxis: any[] = [];
  const yAxis: any[] = [];
  const series: any[] = [];
  const legend: any[] = [];
  PANELS.forEach((p, i) => {
    grid.push({ ...p.grid, show: true, borderColor: '#222', borderWidth: 1, containLabel: false });
    xAxis.push(axis(i, p.x, p.xt, p.xl, p.xs, 'Bt(T)', 19, p.xFont));
    yAxis.push(axis(i, p.y, p.yt, p.yl, p.ys, 'Br(T)', p.yGap, 14));
    series.push({
      type: 'line', name: p.names[0], xAxisIndex: i, yAxisIndex: i, data: p.black,
      symbol: 'none', smooth: p.smooth, lineStyle: { color: BLACK, width: p.width }, itemStyle: { color: BLACK },
      z: 2,
      markLine: {
        silent: true, symbol: ['none', 'arrow'], symbolSize: 6, label: { show: false },
        lineStyle: { color: '#111', width: 0.9, type: 'solid' },
        data: p.arrows.map((a) => [{ coord: [a[0], a[1]] }, { coord: [a[2], a[3]] }]),
      },
    });
    series.push({
      type: 'line', name: p.names[1], xAxisIndex: i, yAxisIndex: i, data: p.red,
      symbol: 'none', smooth: p.smooth, lineStyle: { color: RED, width: p.width }, itemStyle: { color: RED },
      z: 3,
    });
    p.boxes.forEach((b) => {
      series.push({
        type: 'line', name: 'box', xAxisIndex: i, yAxisIndex: i, data: boxData(b), symbol: 'none',
        silent: true, lineStyle: { color: '#222', width: 1, type: [6, 3, 1.5, 3] }, z: 4,
      });
    });
    legend.push({
      left: p.legendLeft, top: p.legendY - 7, data: p.names, icon: 'rect', itemWidth: 37, itemHeight: 2, itemGap: 24,
      selectedMode: false, padding: 0,
      textStyle: { fontFamily: SERIF, fontWeight: 'bold', fontSize: 11.5, color: '#111' },
    });
  });

  const elements: any[] = [];
  ANNOTATIONS.forEach(([t, x, y]) => {
    elements.push({ type: 'text', x, y, silent: true,
      style: { text: t, fontFamily: SERIF, fontSize: 15, fill: '#111', align: 'center', verticalAlign: 'middle' } });
  });
  CAPTIONS.forEach(([t, y]) => {
    elements.push({ type: 'text', x: 343, y, silent: true, scaleX: 1.035,
      style: { text: t, fontFamily: SERIF, fontSize: 28, fill: '#111', align: 'center', verticalAlign: 'middle' } });
  });

  return {
    animation: false,
    backgroundColor: '#ffffff',
    grid, xAxis, yAxis, series, legend,
    graphic: { elements },
  };
}

export default function App() {
  const ref = useRef<HTMLDivElement>(null);
  useEffect(() => {
    document.body.style.margin = '0';
    if (!ref.current) return;
    const chart = echarts.init(ref.current, undefined, { renderer: 'svg' });
    chart.setOption(buildOption() as any);
    return () => chart.dispose();
  }, []);
  return <div ref={ref} style={{ width: 685, height: 1075 }} />;
}
